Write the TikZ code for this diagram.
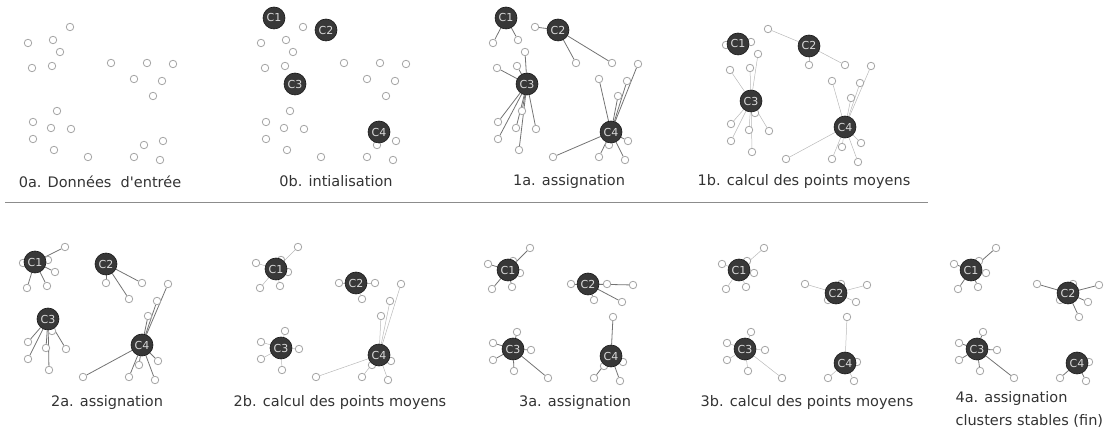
\documentclass[tikz,border=0pt]{standalone}
\usepackage{fontspec}
\setmainfont{DejaVu Sans}
\usetikzlibrary{backgrounds}

% input points, in panel pixels
\newcommand{\ptdata}{70/27, 28/43, 53/40, 60/52, 32/68, 52/66, 111/63, 147/63,
  173/64, 134/79, 162/81, 153/96, 57/111, 33/122, 51/128, 71/129, 33/139,
  54/150, 88/157, 144/145, 163/141, 134/157, 160/160}

% centroid positions after each step
\newcommand{\ctrinit}{41/18, 93/30, 62/84, 146/132}
\newcommand{\ctrone}{40/42, 111/44, 53/99, 147/125}
\newcommand{\ctrtwo}{48/49, 128/63, 53/128, 151/135}
\newcommand{\ctrthree}{45/49, 142/72, 51/128, 151/142}

% cluster memberships (centroid/points)
\newcommand{\asgone}{1/{2,3}, 2/{1,7,8}, 3/{4,5,6,13,14,15,16,17,18},
  4/{9,10,11,12,19,20,21,22,23}}
\newcommand{\asgtwo}{1/{1,2,3,4,5,6}, 2/{7,8,10}, 3/{13,14,15,16,17,18},
  4/{9,11,12,19,20,21,22,23}}
\newcommand{\asgthree}{1/{1,2,3,4,5,6}, 2/{7,8,9,10,11},
  3/{13,14,15,16,17,18,19}, 4/{12,20,21,22,23}}
\newcommand{\asgfour}{1/{1,2,3,4,5,6}, 2/{7,8,9,10,11,12},
  3/{13,14,15,16,17,18,19}, 4/{20,21,22,23}}

\newcommand{\points}[3]{% panel, shift x, shift y
  \foreach \px/\py [count=\i] in \ptdata
    \node[pt] (#1-p\i) at (#2+\px,#3+\py) {};
}
\newcommand{\centres}[4]{% panel, shift x, shift y, centroid list
  \foreach \cx/\cy [count=\k] in #4
    \node[ctr] (#1-c\k) at (#2+\cx,#3+\cy) {C\k};
}
\newcommand{\links}[3]{% panel, memberships, line style
  \begin{pgfonlayer}{background}
    \foreach \k/\members in #2
      \foreach \i in \members
        \draw[#3] (#1-c\k) -- (#1-p\i);
  \end{pgfonlayer}
}

\begin{document}
\begin{tikzpicture}[x=1pt,y=-1pt,
  pt/.style={circle,draw=gray!70,fill=white,line width=0.8pt,inner sep=0pt,
    minimum size=7.5pt},
  ctr/.style={circle,draw=black!90,fill=black!78,line width=0.6pt,inner sep=0pt,
    minimum size=22pt,text=white!85!black,font=\fontsize{11}{11}\selectfont},
  asg/.style={black!55,line width=0.8pt},
  moy/.style={gray!55,line width=0.5pt},
  caption/.style={text=black!80,font=\fontsize{14.5}{23}\selectfont},
  sep/.style={black!45,line width=0.8pt}]
  \useasboundingbox (0,0) rectangle (1105,435);

  % 0a / 0b
  \points{in}{0}{0}
  \points{init}{233}{0}
  \centres{init}{233}{0}{\ctrinit}

  % 1a / 1b
  \points{asgA}{465}{0}
  \centres{asgA}{465}{0}{\ctrinit}
  \links{asgA}{\asgone}{asg}
  \points{moyA}{698}{2}
  \centres{moyA}{698}{2}{\ctrone}
  \links{moyA}{\asgone}{moy}

  % 2a / 2b
  \points{asgB}{-5}{220}
  \centres{asgB}{-5}{220}{\ctrone}
  \links{asgB}{\asgtwo}{asg}
  \points{moyB}{228}{220}
  \centres{moyB}{228}{220}{\ctrtwo}
  \links{moyB}{\asgtwo}{moy}

  % 3a / 3b
  \points{asgC}{460}{221}
  \centres{asgC}{460}{221}{\ctrtwo}
  \links{asgC}{\asgthree}{asg}
  \points{moyC}{694}{221}
  \centres{moyC}{694}{221}{\ctrthree}
  \links{moyC}{\asgthree}{moy}

  % 4a
  \points{asgD}{926}{221}
  \centres{asgD}{926}{221}{\ctrthree}
  \links{asgD}{\asgfour}{asg}

  % separator
  \coordinate (sepL) at (5,202);
  \coordinate (sepR) at (928,202);
  \draw[sep] (sepL) -- (sepR);

  % captions
  \node[caption] (cap-in) at (100,182) {0a. Données\ \ d\textquotesingle entrée};
  \node[caption] (cap-init) at (336,181) {0b. intialisation};
  \node[caption] (cap-asgA) at (569,182) {1a. assignation};
  \node[caption] (cap-moyA) at (804,182) {1b. calcul des points moyens};
  \node[caption] (cap-asgB) at (107,402) {2a. assignation};
  \node[caption] (cap-moyB) at (340,402) {2b. calcul des points moyens};
  \node[caption] (cap-asgC) at (575,402) {3a. assignation};
  \node[caption] (cap-moyC) at (807,402) {3b. calcul des points moyens};
  \node[caption,align=left,anchor=west] (cap-asgD) at (952,409)
    {4a. assignation\\clusters stables (fin)};
\end{tikzpicture}
\end{document}
